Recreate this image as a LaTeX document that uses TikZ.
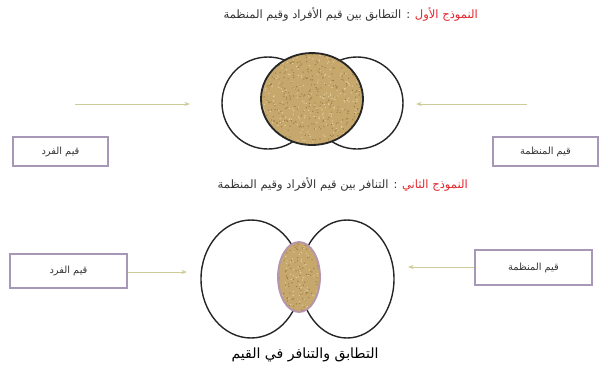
\documentclass[tikz,border=0pt]{standalone}
\usepackage{fontspec}
\usetikzlibrary{arrows.meta, positioning, calc}
\newfontfamily\arabicfont[Script=Arabic]{DejaVu Sans}
\TeXXeTstate=1
\definecolor{sand}{HTML}{C6A76C}
\definecolor{sanddark}{HTML}{9E7E45}
\definecolor{sandlight}{HTML}{E4D0A0}
\definecolor{titlered}{HTML}{E3242B}
\definecolor{boxline}{HTML}{A898B8}
\definecolor{arrowline}{HTML}{CFCB98}
\definecolor{lensline}{HTML}{B594AE}

\begin{document}
\begin{tikzpicture}[x=0.25mm,y=-0.25mm,
    every node/.style={font=\arabicfont\fontsize{7}{8}\selectfont, text=black!80},
    heading/.style={font=\arabicfont\fontsize{8.2}{9}\selectfont, inner sep=0pt},
    valbox/.style={draw=boxline, line width=0.9pt, inner sep=0pt},
    ring/.style={draw=black!85, line width=1pt},
    flow/.style={draw=arrowline, line width=0.7pt, -{Stealth[length=4pt,width=3pt]}}]
  \useasboundingbox (0,0) rectangle (608,372);
  % first model: the two value sets fully match
  \node[heading, anchor=base east, text=titlered] (model1) at (478,18) {\beginR النموذج الأول\endR};
  \node[heading, base left=3pt of model1] (title1) {\beginR : التطابق بين قيم الأفراد وقيم المنظمة\endR};
  \draw[ring] (268,103) circle (46);
  \draw[ring] (357,103) circle (46);
  \begin{scope}
    \clip (312,99) ellipse [x radius=51, y radius=46];
    \fill[sand] (312,99) ellipse [x radius=51, y radius=46];
    \pgfmathsetseed{7}
    \foreach \i in {1,...,350} \fill[sanddark] (312+51*rand,99+46*rand) circle (0.7);
    \foreach \i in {1,...,250} \fill[sandlight] (312+51*rand,99+46*rand) circle (0.7);
  \end{scope}
  \draw[ring, line width=1.3pt] (312,99) ellipse [x radius=51, y radius=46];
  \node[valbox, minimum width=23.75mm, minimum height=7.25mm] (person1) at (60.5,151.5) {\beginR قيم الفرد\endR};
  \node[valbox, minimum width=26.25mm, minimum height=7.25mm] (org1) at (545.5,151.5) {\beginR قيم المنظمة\endR};
  \coordinate (l1start) at (75,104);
  \coordinate (l1end) at (190,104);
  \coordinate (r1start) at (527,104);
  \coordinate (r1end) at (416,104);
  \draw[flow] (l1start) -- (l1end);
  \draw[flow] (r1start) -- (r1end);
  % second model: the two value sets clash
  \node[heading, anchor=base east, text=titlered] (model2) at (468,188) {\beginR النموذج الثاني\endR};
  \node[heading, base left=3pt of model2] (title2) {\beginR : التنافر بين قيم الأفراد وقيم المنظمة\endR};
  \draw[ring] (251,279) ellipse [x radius=50, y radius=59];
  \draw[ring] (347,279) ellipse [x radius=47, y radius=59];
  \begin{scope}
    \clip (299,277) ellipse [x radius=21, y radius=35];
    \fill[sand] (299,277) ellipse [x radius=21, y radius=35];
    \foreach \i in {1,...,120} \fill[sanddark] (299+21*rand,277+35*rand) circle (0.7);
    \foreach \i in {1,...,90} \fill[sandlight] (299+21*rand,277+35*rand) circle (0.7);
  \end{scope}
  \draw[draw=lensline, line width=1.3pt] (299,277) ellipse [x radius=21, y radius=35];
  \node[valbox, minimum width=29.25mm, minimum height=8.5mm] (person2) at (68.5,271) {\beginR قيم الفرد\endR};
  \node[valbox, minimum width=29.25mm, minimum height=8.75mm] (org2) at (533.5,267.5) {\beginR قيم المنظمة\endR};
  \coordinate (l2end) at (187,272);
  \coordinate (r2end) at (408,267);
  \draw[flow] (person2.east |- l2end) -- (l2end);
  \draw[flow] (org2.west |- r2end) -- (r2end);
  \node[font=\arabicfont\fontsize{10}{12}\selectfont, text=black] (caption) at (305,355) {\beginR التطابق والتنافر في القيم\endR};
\end{tikzpicture}
\end{document}
